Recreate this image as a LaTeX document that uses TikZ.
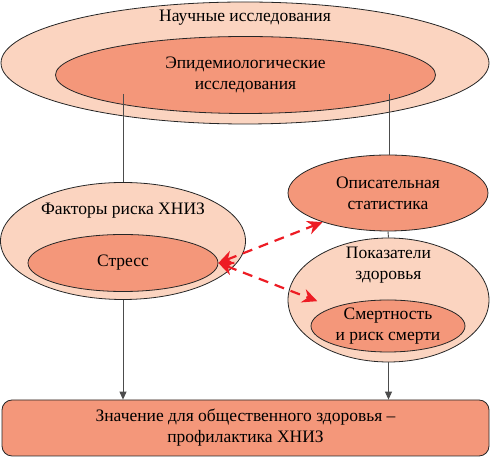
\documentclass[tikz,border=0pt]{standalone}
\usepackage{fontspec}
\setmainfont{Liberation Serif}
\newfontfamily\labelfont{Liberation Serif}
\usetikzlibrary{shapes.geometric, positioning, arrows.meta}
\definecolor{peachlight}{HTML}{FBD4C0}
\definecolor{peachdark}{HTML}{F4977A}
\definecolor{linkred}{HTML}{ED1C24}
\tikzset{
oval/.style={shape=ellipse, inner sep=0, draw=black!85, line width=0.8pt, font=\labelfont\fontsize{17.5}{21}\selectfont, align=center}, outeroval/.style={oval, fill=peachlight}, inneroval/.style={oval, fill=peachdark}, caption/.style={font=\labelfont\fontsize{17.5}{21}\selectfont, align=center, inner sep=0}, stem/.style={draw=black!70, line width=0.9pt}, flow/.style={stem, -{Triangle[length=8pt, width=7pt]}}, link/.style={draw=linkred, line width=2.2pt, dash pattern=on 10pt off 7pt, {Stealth[length=15pt, width=14pt]}-{Stealth[length=15pt, width=14pt]}}}
\begin{document}
\begin{tikzpicture}[x=1pt, y=1pt]
\useasboundingbox (0,0) rectangle (491,457);
\node [outeroval, minimum width=488pt, minimum height=122pt] at (245,394) (sci) {};
\node [caption] at (245,439) (sci-t) {Научные исследования};
\node [inneroval, minimum width=380pt, minimum height=77pt] at (245.5,382) (epid) {Эпидемиологические\\исследования};
\node [outeroval, minimum width=245pt, minimum height=117pt] at (123,216) (fact) {};
\node [caption] at (123,246) (fact-t) {Факторы риска ХНИЗ};
\node [inneroval, minimum width=190pt, minimum height=57pt] at (123,194) (stress) {Стресс};
\node [inneroval, minimum width=200pt, minimum height=76pt] at (388,264) (opis) {Описательная\\статистика};
\node [outeroval, minimum width=201pt, minimum height=124pt] at (388.5,157) (pokaz) {};
\node [caption] at (388.5,192) (pokaz-t) {Показатели\\здоровья};
\node [inneroval, minimum width=154pt, minimum height=52pt] at (388,131) (smert) {Смертность\\и риск смерти};
\node [inneroval, shape=rectangle, rounded corners=10pt, minimum width=487pt, minimum height=56pt] at (245.5,29) (znach) {Значение для общественного здоровья –\\профилактика ХНИЗ};
% links between levels
\coordinate (l-top) at (123,363);
\coordinate (r-top) at (389,363);
\draw [stem] (l-top) -- (fact.north);
\draw [stem] (r-top) -- (r-top |- opis.north);
\draw [stem] (opis.south) -- (pokaz.north);
\draw [flow] (fact.south) -- (fact.south |- znach.north);
\draw [flow] (pokaz.south) -- (pokaz.south |- znach.north);
\draw [link] (stress.east) -- (opis.204);
\draw [link, shorten >=17pt] (stress.east) -- (smert.north west);
\end{tikzpicture}
\end{document}
